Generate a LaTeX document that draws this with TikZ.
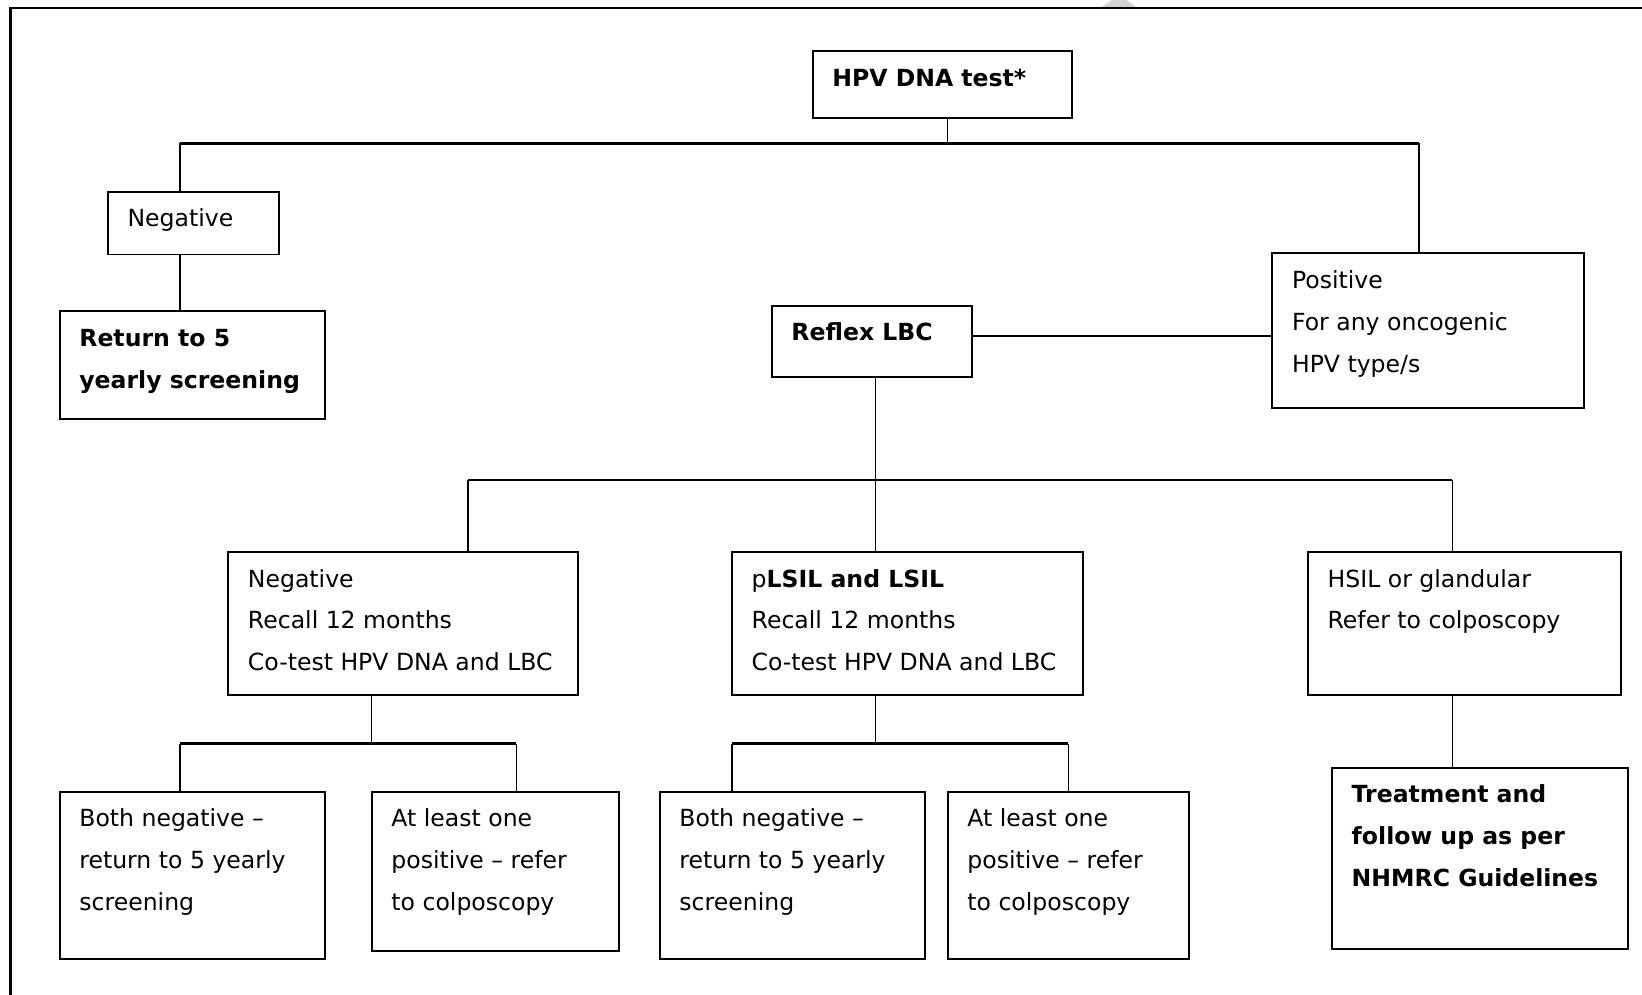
\documentclass[tikz,border=0pt]{standalone}
\usepackage{fontspec}
\setmainfont{DejaVu Sans}
\usetikzlibrary{fit}
\tikzset{
  box/.style={draw, line width=1.8pt, inner sep=0pt, rectangle},
  txt/.style={anchor=base west, align=left, inner sep=0pt, font=\fontsize{22.5}{40}\selectfont},
  vline/.style={line width=1.2pt},
  hline/.style={line width=2pt},
  frame/.style={line width=2pt}
}
% #1 name, #2-#5 corners, #6 number of lines, #7 text
\newcommand\mybox[7]{%
  \node[box, fit={(#2,#3)(#4,#5)}] (#1) {};
  \node[txt] (#1-t) at ([shift={(19.5,{34.5+40*(#6-1)})}]#1.north west) {#7};
}
\begin{document}
\begin{tikzpicture}[x=1pt,y=-1pt]
\clip (0,0) rectangle (1568,950);
\fill[white] (0,0) rectangle (1568,950);
% watermark fragment
\fill[gray!35] (1062,0) -- (1076,0) -- (1086,8) -- (1050,8) -- cycle;
% outer frame
\draw[frame] (10,1000) -- (10,8) -- (1600,8);

\mybox{hpv}{776}{49}{1024}{113}{1}{\textbf{HPV DNA test*}}
\mybox{neg}{103}{183}{266}{243}{1}{Negative}
\mybox{ret}{57}{297}{310}{400}{2}{\textbf{Return to 5}\\\textbf{yearly screening}}
\mybox{pos}{1215}{242}{1513}{390}{3}{Positive\\For any oncogenic\\HPV type/s}
\mybox{refl}{737}{292}{928}{360}{1}{\textbf{Reflex LBC}}
\mybox{neg2}{218}{527}{552}{664}{3}{Negative\\Recall 12 months\\Co-test HPV DNA and LBC}
\mybox{lsil}{699}{527}{1034}{664}{3}{p\textbf{LSIL and LSIL}\\Recall 12 months\\Co-test HPV DNA and LBC}
\mybox{hsil}{1249}{527}{1548}{664}{2}{HSIL or glandular\\Refer to colposcopy}
\mybox{bn1}{57}{756}{310}{916}{3}{Both negative --\\return to 5 yearly\\screening}
\mybox{al1}{355}{756}{591}{908}{3}{At least one\\positive -- refer\\to colposcopy}
\mybox{bn2}{630}{756}{883}{916}{3}{Both negative --\\return to 5 yearly\\screening}
\mybox{al2}{905}{756}{1135}{916}{3}{At least one\\positive -- refer\\to colposcopy}
\mybox{trt}{1272}{733}{1555}{906}{3}{\textbf{Treatment and}\\\textbf{follow up as per}\\\textbf{NHMRC Guidelines}}

% junction coordinates
\coordinate (j1) at (905,137);
\coordinate (busL) at (172,137);
\coordinate (busR) at (1355,137);
\coordinate (r1) at (0,321);
\coordinate (j2) at (836,458);
\coordinate (bus2L) at (447,458);
\coordinate (bus2R) at (1387,458);
\coordinate (j3) at (355,710);
\coordinate (bus3L) at (172,710);
\coordinate (bus3R) at (493,710);
\coordinate (j4) at (836,710);
\coordinate (bus4L) at (699,710);
\coordinate (bus4R) at (1020,710);

% level 1
\draw[vline] (j1 |- hpv.south) -- (j1);
\draw[hline] (busL) -- (busR);
\draw[vline] (busL) -- (busL |- neg.north);
\draw[vline] (busR) -- (busR |- pos.north);
\draw[vline] (busL |- neg.south) -- (busL |- ret.north);
\draw[hline] (refl.east |- r1) -- (pos.west |- r1);
% level 2
\draw[vline] (j2 |- refl.south) -- (j2 |- lsil.north);
\draw[hline] (bus2L) -- (bus2R);
\draw[vline] (bus2L) -- (bus2L |- neg2.north);
\draw[vline] (bus2R) -- (bus2R |- hsil.north);
% level 3
\draw[vline] (j3 |- neg2.south) -- (j3);
\draw[hline] (bus3L) -- (bus3R);
\draw[vline] (bus3L) -- (bus3L |- bn1.north);
\draw[vline] (bus3R) -- (bus3R |- al1.north);
\draw[vline] (j4 |- lsil.south) -- (j4);
\draw[hline] (bus4L) -- (bus4R);
\draw[vline] (bus4L) -- (bus4L |- bn2.north);
\draw[vline] (bus4R) -- (bus4R |- al2.north);
\draw[vline] (bus2R |- hsil.south) -- (bus2R |- trt.north);
\end{tikzpicture}
\end{document}
